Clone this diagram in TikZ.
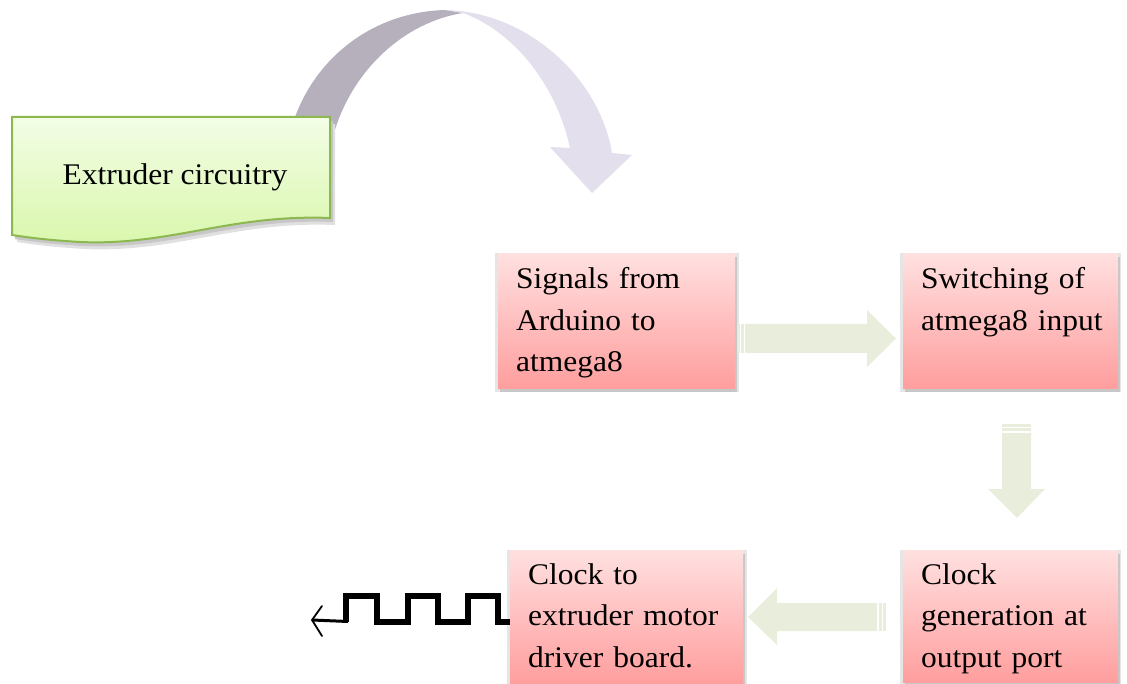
\documentclass[tikz,border=0pt]{standalone}
\usepackage{fontspec}
\setmainfont{Liberation Serif}[FakeStretch=1.05]
\usetikzlibrary{calc,shadows}
\definecolor{pinktop}{RGB}{255,224,224}
\definecolor{pinkbot}{RGB}{255,158,158}
\definecolor{greentop}{RGB}{243,253,230}
\definecolor{greenbot}{RGB}{217,247,172}
\definecolor{greenedge}{RGB}{141,184,80}
\definecolor{arrowgreen}{RGB}{233,238,220}
\definecolor{ribdark}{RGB}{181,176,188}
\definecolor{riblight}{RGB}{227,223,236}
\tikzset{
  pinkbox/.style={rectangle, inner sep=0pt, anchor=north west,
    top color=pinktop, bottom color=pinkbot,
    general shadow={fill=black!10, shadow scale=1.03, shadow yshift=-2pt},
    general shadow={fill=black!22, shadow xshift=2pt, shadow yshift=-4pt}},
  boxtext/.style={font=\fontsize{30}{41.5}\selectfont, text width=225pt,
    align=left, inner sep=0pt, anchor=base west},
  greenbox/.style={top color=greentop, bottom color=greenbot, draw=greenedge,
    line width=2pt,
    general shadow={fill=black!12, shadow xshift=5pt, shadow yshift=-7pt},
    general shadow={fill=black!22, shadow xshift=3pt, shadow yshift=-4pt}},
  blockarrow/.style={fill=arrowgreen},
  wave/.style={line width=6pt, black, line join=miter},
}
\begin{document}
\begin{tikzpicture}[x=1pt,y=-1pt]
\useasboundingbox (0,0) rectangle (1127,684);

% curved ribbon arrow
\fill[ribdark] (295,117) .. controls (318,55) and (375,12) .. (445,10)
  -- (463,13) .. controls (405,22) and (350,70) .. (332,140) -- cycle;
\fill[riblight] (445,10) .. controls (530,12) and (600,80) .. (612,153)
  -- (632,155) -- (592,193) -- (550,147) -- (570,148)
  .. controls (555,80) and (510,30) .. (463,13) -- cycle;

% green document box
\path[greenbox] (12,117) -- (330,117) -- (330,218)
  .. controls (230,214) and (170,246) .. (80,242)
  .. controls (45,240) and (25,237) .. (12,235) -- cycle;
\node[font=\fontsize{30}{36}\selectfont, anchor=base, inner sep=0pt] (ext) at (175,185) {Extruder circuitry};

% pink boxes
\node[pinkbox, minimum width=237pt, minimum height=135pt] (b1) at (498,253) {};
\node[pinkbox, minimum width=215pt, minimum height=135pt] (b2) at (903,253) {};
\node[pinkbox, minimum width=233pt, minimum height=133pt] (b3) at (510,550) {};
\node[pinkbox, minimum width=215pt, minimum height=132pt] (b4) at (903,550) {};

\node[boxtext] (t1) at ($(b1.north west)+(18,36)$) {Signals from\\Arduino to\\atmega8};
\node[boxtext] (t2) at ($(b2.north west)+(18,36)$) {Switching of\\atmega8 input};
\node[boxtext] (t3) at ($(b3.north west)+(18,34)$) {Clock to\\extruder motor\\driver board.};
\node[boxtext] (t4) at ($(b4.north west)+(18,34)$) {Clock\\generation at\\output port};

% block arrows
% b1 -> b2
\fill[blockarrow] (737,324) rectangle (739.5,353);
\fill[blockarrow] (741,324) rectangle (743.5,353);
\fill[blockarrow] (745,324) -- (867,324) -- (867,310) -- (896,338.5)
  -- (867,367) -- (867,353) -- (745,353) -- cycle;
% b2 -> b4
\fill[blockarrow] (1002,424) rectangle (1031,426.5);
\fill[blockarrow] (1002,428) rectangle (1031,431);
\fill[blockarrow] (1002,433) -- (1002,489) -- (988,489) -- (1017,518)
  -- (1045,489) -- (1031,489) -- (1031,433) -- cycle;
% b4 -> b3
\fill[blockarrow] (883,603) rectangle (886,631);
\fill[blockarrow] (879,603) rectangle (881.5,631);
\fill[blockarrow] (877,603) -- (777,603) -- (777,588) -- (748,617)
  -- (777,645) -- (777,631) -- (877,631) -- cycle;

% square wave out of b3
\coordinate (wend) at (312,620);
\draw[wave] (b3.west |- 0,622) -- (498,622) -- (498,596) -- (468,596) -- (468,622)
  -- (438,622) -- (438,596) -- (408,596) -- (408,622) -- (377,622) -- (377,596)
  -- (346,596) -- (346,622);
\draw[line width=3pt] (348,621.5) -- (wend);
\draw[line width=1.8pt, line cap=round] (322,606) -- (wend) -- (322,636);
\end{tikzpicture}
\end{document}
